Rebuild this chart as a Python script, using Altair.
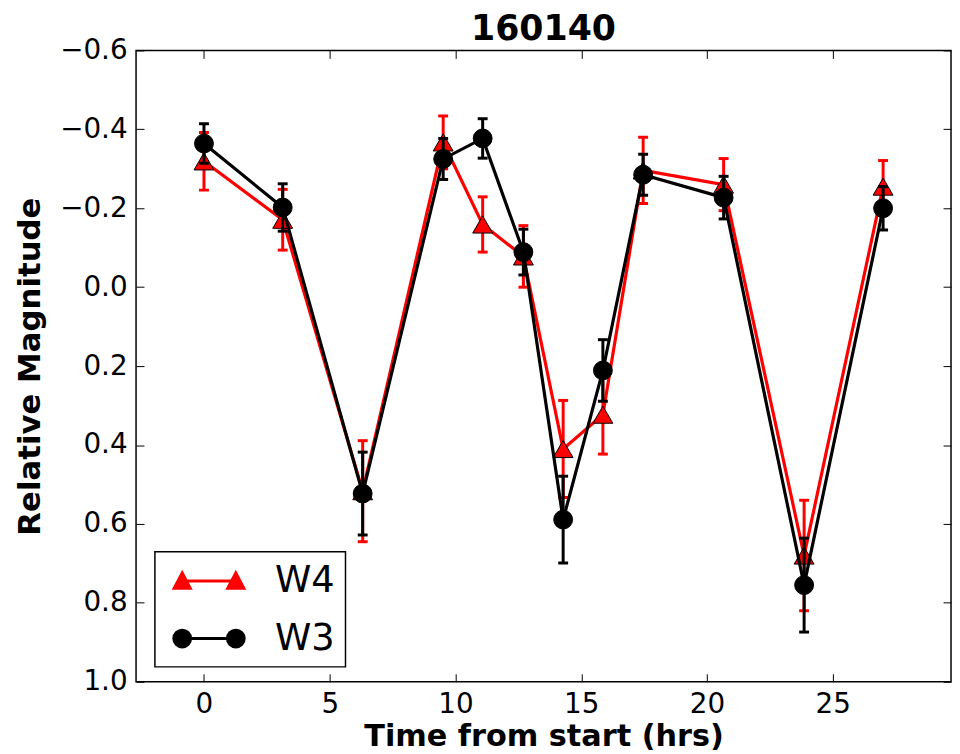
import altair as alt
import pandas as pd

# ---- data ----
time_hrs = [0.0, 3.13, 6.31, 9.51, 11.08, 12.7, 14.28, 15.86, 17.46, 20.66, 23.86, 27.0]
w3_mag = [-0.364, -0.202, 0.523, -0.325, -0.377, -0.089, 0.589, 0.211, -0.285, -0.227, 0.755, -0.200]
w3_err = [0.050, 0.060, 0.105, 0.052, 0.050, 0.058, 0.110, 0.078, 0.052, 0.054, 0.119, 0.055]
w4_mag = [-0.319, -0.171, 0.517, -0.367, -0.159, -0.078, 0.410, 0.323, -0.296, -0.260, 0.680, -0.255]
w4_err = [0.073, 0.077, 0.128, 0.067, 0.070, 0.078, 0.123, 0.100, 0.084, 0.066, 0.140, 0.066]

series_names = ["W4", "W3"]
series_colors = ["#ff0000", "#000000"]
x_ticks = [0, 5, 10, 15, 20, 25]
y_ticks = [-0.6, -0.4, -0.2, 0.0, 0.2, 0.4, 0.6, 0.8, 1.0]
x_domain = [-2.7, 29.7]
y_domain = [-0.6, 1.0]
title_text = "160140"
x_title = "Time from start (hrs)"
y_title = "Relative Magnitude"

FONT = "DejaVu Sans"

rows = []
for name, mags, errs in (("W4", w4_mag, w4_err), ("W3", w3_mag, w3_err)):
    for t, m, e in zip(time_hrs, mags, errs):
        rows.append(dict(series=name, t=t, mag=m, lo=m - e, hi=m + e))
df = pd.DataFrame(rows)

xs = alt.Scale(domain=x_domain, nice=False, zero=False)
ys = alt.Scale(domain=y_domain, reverse=True, nice=False, zero=False)


def series_layers(name, color, shape, size):
    base = alt.Chart(df).transform_filter(alt.datum.series == name)
    X = alt.X("t:Q", scale=xs, axis=None)
    err = base.mark_rule(color=color, strokeWidth=3, opacity=1).encode(
        x=X, y=alt.Y("lo:Q", scale=ys, axis=None), y2="hi:Q")
    cap_lo = base.mark_tick(orient="horizontal", color=color, size=10, thickness=3, opacity=1).encode(
        x=X, y=alt.Y("lo:Q", scale=ys, axis=None))
    cap_hi = base.mark_tick(orient="horizontal", color=color, size=10, thickness=3, opacity=1).encode(
        x=X, y=alt.Y("hi:Q", scale=ys, axis=None))
    line = base.mark_line(color=color, strokeWidth=3.2).encode(
        x=X, y=alt.Y("mag:Q", scale=ys, axis=None))
    pts = base.mark_point(shape=shape, filled=True, fill=color, stroke="black",
                          strokeWidth=1, size=size, opacity=1).encode(
        x=X, y=alt.Y("mag:Q", scale=ys, axis=None))
    return [err, cap_lo, cap_hi, line, pts]


empty = alt.Chart(df).transform_filter("false")

# main labelled axes
axis_main = empty.mark_point(opacity=0).encode(
    x=alt.X("t:Q", scale=xs, axis=alt.Axis(
        orient="bottom", values=x_ticks, format="d", title=x_title, ticks=False,
        domain=False, grid=False, labelFontSize=28, labelFont=FONT, labelColor="black",
        labelPadding=9, labelFlush=False, titleFontSize=30.5, titleFont=FONT,
        titleFontWeight="bold", titleColor="black", titlePadding=3)),
    y=alt.Y("mag:Q", scale=ys, axis=alt.Axis(
        orient="left", values=y_ticks, format=".1f", title=y_title, ticks=False,
        domain=False, grid=False, labelFontSize=28, labelFont=FONT, labelColor="black",
        labelPadding=9, labelFlush=False, titleFontSize=31, titleFont=FONT,
        titleFontWeight="bold", titleColor="black", titlePadding=13)),
)

# inward ticks on top/right
axis_tr = empty.mark_point(opacity=0).encode(
    x=alt.X("t:Q", scale=xs, axis=alt.Axis(
        orient="top", values=x_ticks, labels=False, title=None, domain=False, grid=False,
        ticks=True, tickSize=8, tickColor="black", tickWidth=1, offset=-8)),
    y=alt.Y("mag:Q", scale=ys, axis=alt.Axis(
        orient="right", values=y_ticks, labels=False, title=None, domain=False, grid=False,
        ticks=True, tickSize=8, tickColor="black", tickWidth=1, offset=-8)),
)

# inward ticks on bottom/left
axis_bl = empty.mark_point(opacity=0).encode(
    x=alt.X("t:Q", scale=xs, axis=alt.Axis(
        orient="bottom", values=x_ticks, labels=False, title=None, domain=False, grid=False,
        ticks=True, tickSize=8, tickColor="black", tickWidth=1, offset=-8)),
    y=alt.Y("mag:Q", scale=ys, axis=alt.Axis(
        orient="left", values=y_ticks, labels=False, title=None, domain=False, grid=False,
        ticks=True, tickSize=8, tickColor="black", tickWidth=1, offset=-8)),
)

# legend symbols: marker - line - marker (unit = 18 px)
path_w4 = ("M-1.5,0L1.5,0"
           "M-1.5,-0.45L-1.95,0.4L-1.05,0.4Z"
           "M1.5,-0.45L1.05,0.4L1.95,0.4Z")
path_w3 = ("M-1.5,0L1.5,0"
           "M-1.97,0A0.47,0.47 0 1,0 -1.03,0A0.47,0.47 0 1,0 -1.97,0Z"
           "M1.03,0A0.47,0.47 0 1,0 1.97,0A0.47,0.47 0 1,0 1.03,0Z")

leg = alt.Legend(title=None, symbolSize=1296, labelExpr="datum.label + '\u00a0'")
legend_layer = empty.mark_point(filled=True, size=1296, strokeWidth=3, opacity=1).encode(
    x=alt.X("t:Q", scale=xs, axis=None),
    y=alt.Y("mag:Q", scale=ys, axis=None),
    fill=alt.Fill("series:N", scale=alt.Scale(domain=series_names, range=series_colors), legend=leg),
    stroke=alt.Stroke("series:N", scale=alt.Scale(domain=series_names, range=series_colors), legend=leg),
    shape=alt.Shape("series:N", scale=alt.Scale(domain=series_names, range=[path_w4, path_w3]), legend=leg),
)

layers = (series_layers("W4", "#ff0000", "triangle-up", 400)
          + series_layers("W3", "#000000", "circle", 361)
          + [axis_main, axis_tr, axis_bl, legend_layer])

chart = alt.layer(*layers).resolve_axis(x="independent", y="independent").properties(
    width=821,
    height=636,
    title=alt.Title(title_text, fontSize=35, font=FONT, fontWeight="bold", offset=11, dy=21,
                    color="black"),
    autosize=alt.AutoSizeParams(type="none"),
    padding={"left": 129, "top": 40, "right": 1, "bottom": 70},
).configure_view(stroke="black", strokeWidth=1.5).configure_legend(
    orient="none", legendX=19, legendY=505, strokeColor="black", strokeWidth=1.5, fillColor="white",
    padding=10, labelFontSize=37, labelFont=FONT, labelColor="black", symbolStrokeWidth=3,
    rowPadding=20, labelOffset=47, symbolOffset=25, cornerRadius=0,
)

chart.save("out.html", embed_options={"renderer": "svg", "actions": False})
